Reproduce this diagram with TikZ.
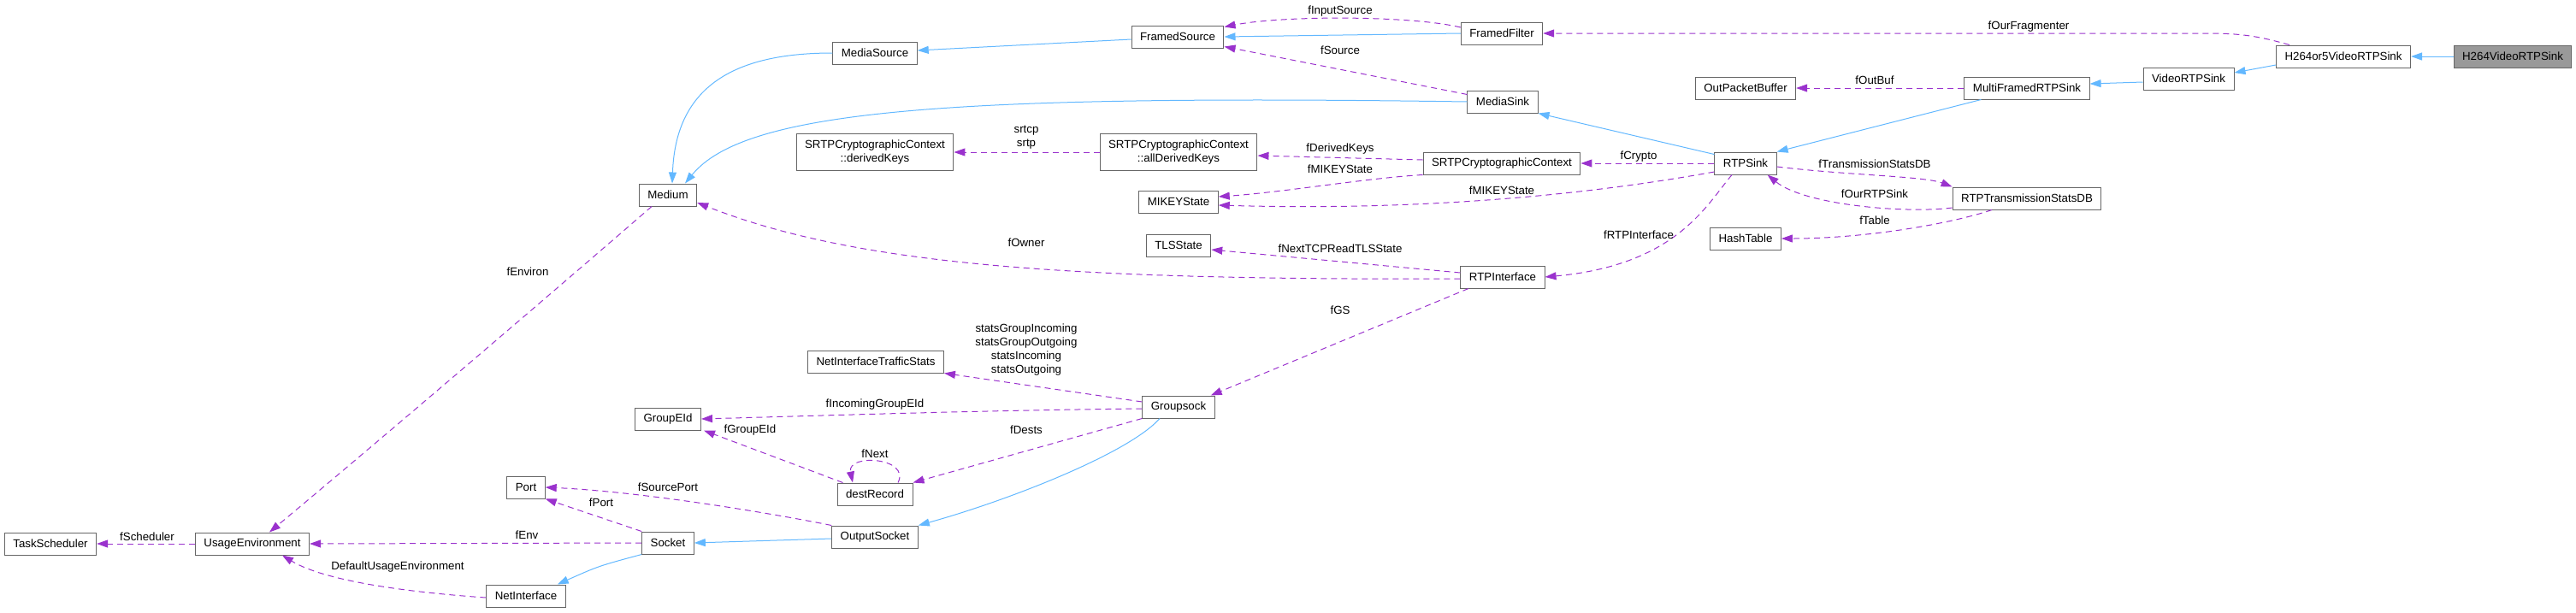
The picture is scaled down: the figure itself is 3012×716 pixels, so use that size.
\documentclass[tikz,border=0pt]{standalone}
\usepackage{fontspec}
\setmainfont{Liberation Sans}
\usetikzlibrary{arrows.meta,calc}

\definecolor{usecolor}{HTML}{9A32CD}
\definecolor{inhcolor}{HTML}{63B8FF}
\definecolor{boxline}{HTML}{666666}
\definecolor{boxgray}{HTML}{999999}

\begin{document}
\begin{tikzpicture}[
    x=1pt, y=-1pt,
    font=\fontsize{13.3}{16}\selectfont,
    classbox/.style={draw=boxline, line width=1pt, fill=white, align=center, inner xsep=10pt, inner ysep=0pt, minimum height=26pt},
    twoline/.style={classbox, minimum height=43pt},
    thisclass/.style={classbox, fill=boxgray},
    inherits/.style={-{Triangle[length=13pt,width=9pt]}, draw=inhcolor, line width=1pt},
    uses/.style={-{Triangle[length=13pt,width=9pt]}, draw=usecolor, line width=1pt, dash pattern=on 7pt off 5pt},
    lbl/.style={inner sep=0pt, align=center}
]
    \useasboundingbox (0,0) rectangle (3012,716);

    % Node placement
    \node[thisclass] (h264) at (2938,66) {H264VideoRTPSink};
    \node[classbox] (h264or5) at (2740,66) {H264or5VideoRTPSink};
    \node[classbox] (videosink) at (2559,92) {VideoRTPSink};
    \node[classbox] (multiframed) at (2370,103) {MultiFramedRTPSink};
    \node[classbox] (statsdb) at (2370,232) {RTPTransmissionStatsDB};
    \node[classbox] (outpkt) at (2041,103) {OutPacketBuffer};
    \node[classbox] (rtpsink) at (2041,191) {RTPSink};
    \node[classbox] (hashtable) at (2041,279) {HashTable};
    \node[classbox] (framedfilter) at (1756,39) {FramedFilter};
    \node[classbox] (mediasink) at (1757,119) {MediaSink};
    \node[classbox] (srtpctx) at (1756,191) {SRTPCryptographicContext};
    \node[classbox] (rtpif) at (1757,324) {RTPInterface};
    \node[classbox] (framedsrc) at (1377,43) {FramedSource};
    \node[twoline] (allkeys) at (1378,178) {SRTPCryptographicContext\\::allDerivedKeys};
    \node[classbox] (mikey) at (1378,236) {MIKEYState};
    \node[classbox] (tls) at (1378,287) {TLSState};
    \node[classbox] (groupsock) at (1378,476) {Groupsock};
    \node[classbox] (mediasrc) at (1023,62) {MediaSource};
    \node[twoline] (keys) at (1023,178) {SRTPCryptographicContext\\::derivedKeys};
    \node[classbox] (nistats) at (1024,423) {NetInterfaceTrafficStats};
    \node[classbox] (destrec) at (1023,578) {destRecord};
    \node[classbox] (outsock) at (1023,628) {OutputSocket};
    \node[classbox] (medium) at (781,228) {Medium};
    \node[classbox] (groupeid) at (781,490) {GroupEId};
    \node[classbox] (socket) at (781,635) {Socket};
    \node[classbox] (port) at (615,570) {Port};
    \node[classbox] (netif) at (615,697) {NetInterface};
    \node[classbox] (usageenv) at (295,636) {UsageEnvironment};
    \node[classbox] (tasksched) at (59,636) {TaskScheduler};

    % Inheritance
    \draw[inherits] (h264.west) -- (h264or5.east);
    \draw[inherits] ([yshift=-10pt]h264or5.west) -- ([yshift=7pt]videosink.east);
    \draw[inherits] ([yshift=-4pt]videosink.west) -- ([yshift=5pt]multiframed.east);
    \draw[inherits] ([xshift=20pt]multiframed.south west) -- (rtpsink.north east);
    \draw[inherits] ([yshift=-3pt]rtpsink.north west) -- (mediasink.south east);
    \draw[inherits] (mediasink.west) .. controls (1100,110) and (870,130) .. ([xshift=20pt]medium.north);
    \draw[inherits] (framedfilter.west) -- (framedsrc.east);
    \draw[inherits] ([yshift=-3pt]framedsrc.west) -- ([yshift=3pt]mediasrc.east);
    \draw[inherits] (mediasrc.west) .. controls (860,62) and (790,100) .. ([xshift=5pt]medium.north);
    \draw[inherits] ([xshift=-22pt]groupsock.south) .. controls (1320,530) and (1180,585) .. (outsock.north east);
    \draw[inherits] ([yshift=-2pt]outsock.west) -- (socket.east);
    \draw[inherits] (socket.south west) .. controls (700,662) .. ([xshift=-10pt]netif.north east);

    % Usage relations
    \draw[uses] ([xshift=16pt]h264or5.north west) .. controls (2640,42) and (2620,39) .. (2580,39) -- (framedfilter.east)
        node[lbl] at (2372,31) {fOurFragmenter};
    \draw[uses] ([yshift=7pt]framedfilter.west) .. controls (1650,18) and (1500,18) .. ([yshift=-2pt]framedsrc.north east)
        node[lbl] at (1567,13) {fInputSource};
    \draw[uses] ([yshift=-5pt]mediasink.north west) -- ([yshift=2pt]framedsrc.south east)
        node[lbl] at (1567,59) {fSource};
    \draw[uses] (multiframed.west) -- (outpkt.east)
        node[lbl] at (2192,94) {fOutBuf};
    \draw[uses] (rtpsink.west) -- (srtpctx.east)
        node[lbl] at (1916,183) {fCrypto};
    \draw[uses] (srtpctx.south west) .. controls (1600,208) and (1500,225) .. ([yshift=6pt]mikey.east)
        node[lbl] at (1567,198) {fMIKEYState};
    \draw[uses] ([yshift=-10pt]rtpsink.west) .. controls (1900,220) and (1700,248) .. ([yshift=-4pt]mikey.east)
        node[lbl] at (1756,223) {fMIKEYState};
    \draw[uses] ([yshift=4pt]srtpctx.west) -- ([yshift=-4pt]allkeys.east)
        node[lbl] at (1567,174) {fDerivedKeys};
    \draw[uses] (allkeys.west) -- (keys.east)
        node[lbl] at (1200,161) {srtcp\\srtp};
    \draw[uses] ([yshift=-4pt]rtpsink.east) .. controls (2160,205) and (2250,206) .. (statsdb.north west)
        node[lbl] at (2192,192) {fTransmissionStatsDB};
    \draw[uses] ([yshift=-11pt]statsdb.west) .. controls (2230,250) and (2110,240) .. ([xshift=-11pt]rtpsink.south east)
        node[lbl] at (2192,227) {fOurRTPSink};
    \draw[uses] ([xshift=-41pt]statsdb.south) .. controls (2280,262) and (2180,279) .. (hashtable.east)
        node[lbl] at (2192,258) {fTable};
    \draw[uses] ([xshift=-16pt]rtpsink.south) .. controls (1995,240) and (1960,310) .. (rtpif.east)
        node[lbl] at (1916,275) {fRTPInterface};
    \draw[uses] ([yshift=5pt]rtpif.west) -- ([yshift=-5pt]tls.east)
        node[lbl] at (1567,291) {fNextTCPReadTLSState};
    \draw[uses] ([yshift=-2pt]rtpif.west) .. controls (1250,328) and (1000,310) .. ([yshift=-9pt]medium.east)
        node[lbl] at (1200,284) {fOwner};
    \draw[uses] ([xshift=-40pt]rtpif.south) -- ([xshift=-5pt]groupsock.north east)
        node[lbl] at (1567,363) {fGS};
    \draw[uses] ([yshift=6pt]groupsock.west) -- (nistats.south east)
        node[lbl] at (1200,409) {statsGroupIncoming\\statsGroupOutgoing\\statsIncoming\\statsOutgoing};
    \draw[uses] ([yshift=-2pt]groupsock.west) .. controls (1150,480) and (1000,485) .. (groupeid.east)
        node[lbl] at (1023,473) {fIncomingGroupEId};
    \draw[uses] (groupsock.south west) -- (destrec.north east)
        node[lbl] at (1200,503) {fDests};
    \draw[uses] ([xshift=7pt]destrec.north west) -- ([xshift=3pt]groupeid.south east)
        node[lbl] at (877,503) {fGroupEId};
    \draw[uses] ([xshift=27pt]destrec.north) .. controls (1065,535) and (990,530) .. ([xshift=-26pt]destrec.north)
        node[lbl] at (1023,531) {fNext};
    \draw[uses] (outsock.north west) .. controls (900,600) and (750,575) .. (port.east)
        node[lbl] at (781,570) {fSourcePort};
    \draw[uses] (socket.north west) -- (port.south east)
        node[lbl] at (703,588) {fPort};
    \draw[uses] (socket.west) -- (usageenv.east)
        node[lbl] at (616,626) {fEnv};
    \draw[uses] (usageenv.west) -- (tasksched.east)
        node[lbl] at (172,628) {fScheduler};
    \draw[uses] ([xshift=-19pt]medium.south) .. controls (660,330) and (450,510) .. ([xshift=20pt]usageenv.north)
        node[lbl] at (617,318) {fEnviron};
    \draw[uses] ([yshift=-2pt]netif.west) .. controls (480,693) and (380,680) .. ([xshift=35pt]usageenv.south)
        node[lbl] at (465,663) {DefaultUsageEnvironment};

\end{tikzpicture}
\end{document}
